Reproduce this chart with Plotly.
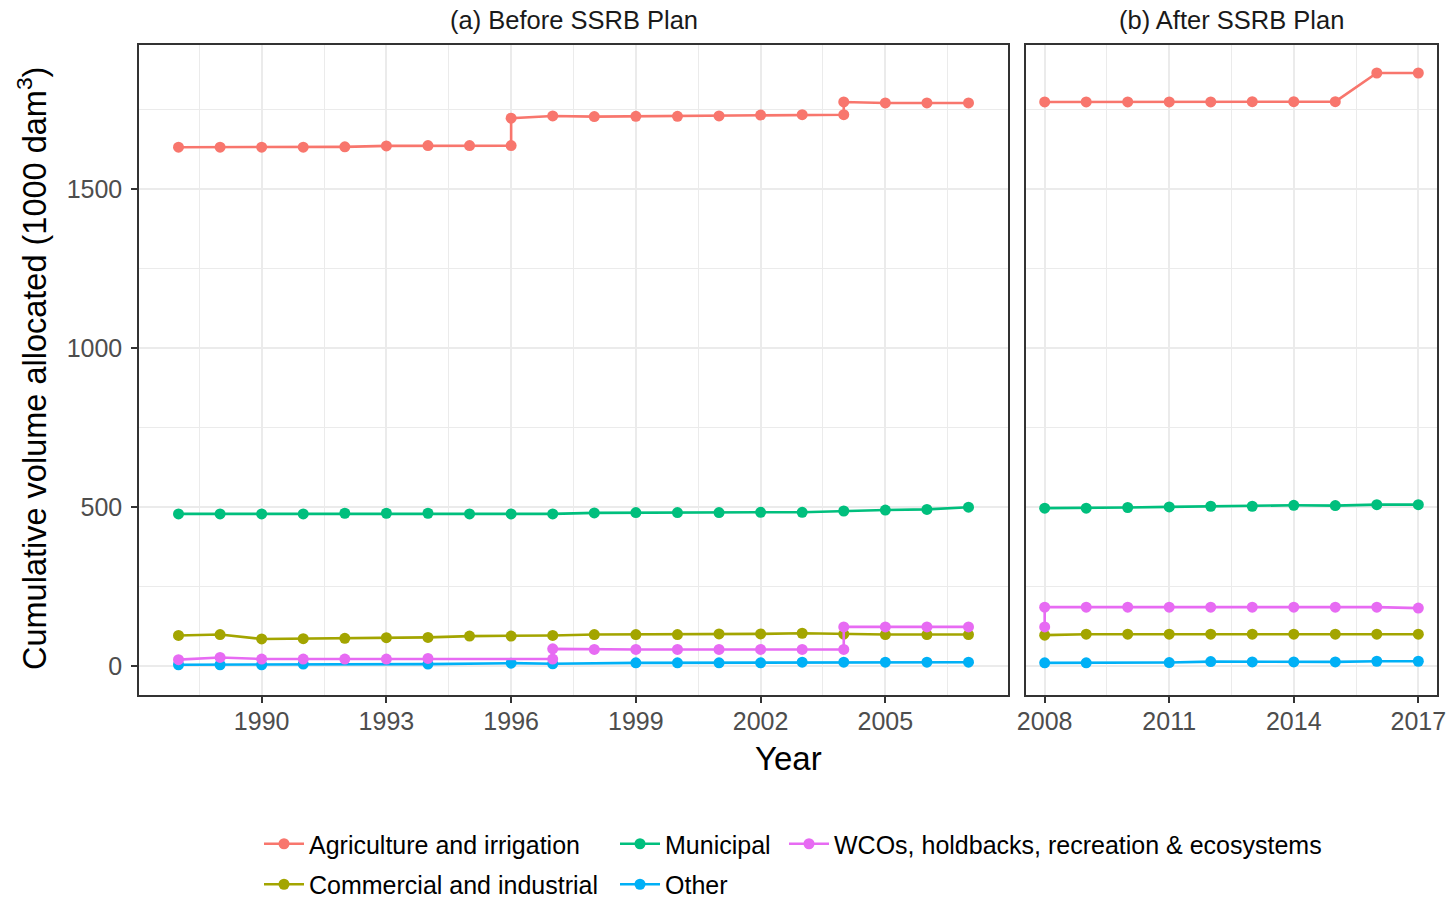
import plotly.graph_objects as go

# ---- data: cumulative volume allocated (1000 dam^3) by purpose ----
# (a) Before SSRB Plan, 1988-2007; repeated years hold the value before and after a change
agri_a_years = [1988, 1989, 1990, 1991, 1992, 1993, 1994, 1995, 1996, 1996, 1997,
                1998, 1999, 2000, 2001, 2002, 2003, 2004, 2004, 2005, 2006, 2007]
agri_a = [1631, 1631, 1631, 1631, 1632, 1635, 1636, 1636, 1636, 1722, 1729,
          1727, 1728, 1728, 1729, 1732, 1733, 1733, 1773, 1770, 1770, 1770]

comm_a_years = list(range(1988, 2008))
comm_a = [97, 100, 86, 87, 88, 90, 91, 95, 95, 97,
          100, 100, 100, 102, 102, 104, 101, 100, 100, 100]

muni_a_years = list(range(1988, 2008))
muni_a = [479, 479, 479, 479, 481, 481, 481, 479, 479, 479,
          482, 483, 483, 483, 484, 484, 488, 491, 493, 500]

other_a_years = [1988, 1989, 1990, 1991, 1994, 1996, 1997, 1999, 2000,
                 2001, 2002, 2003, 2004, 2005, 2006, 2007]
other_a = [5, 5, 5, 7, 7, 10, 8, 11, 11, 11, 11, 13, 13, 13, 13, 13]

wco_a_years = [1988, 1989, 1990, 1991, 1992, 1993, 1994, 1997, 1997, 1998,
               1999, 2000, 2001, 2002, 2003, 2004, 2004, 2005, 2006, 2007]
wco_a = [21, 28, 23, 23, 23, 23, 25, 23, 55, 53,
         53, 53, 53, 53, 53, 53, 124, 124, 124, 124]

# (b) After SSRB Plan, 2008-2017
agri_b_years = list(range(2008, 2018))
agri_b = [1773, 1773, 1773, 1773, 1773, 1774, 1774, 1774, 1864, 1864]

comm_b_years = list(range(2008, 2018))
comm_b = [98, 101, 101, 101, 101, 101, 101, 101, 101, 101]

muni_b_years = list(range(2008, 2018))
muni_b = [497, 497, 499, 501, 503, 503, 506, 505, 508, 508]

other_b_years = [2008, 2009, 2011, 2012, 2013, 2014, 2015, 2016, 2017]
other_b = [11, 11, 12, 15, 14, 14, 14, 16, 16]

wco_b_years = [2008, 2008, 2009, 2010, 2011, 2012, 2013, 2014, 2015, 2016, 2017]
wco_b = [124, 186, 186, 186, 186, 186, 186, 186, 186, 186, 183]

series_names = ["Agriculture and irrigation", "Commercial and industrial",
                "Municipal", "Other", "WCOs, holdbacks, recreation & ecosystems"]
series_colors = ["#F8766D", "#A3A500", "#00BF7D", "#00B0F6", "#E76BF3"]
panel_a = [(agri_a_years, agri_a), (comm_a_years, comm_a), (muni_a_years, muni_a),
           (other_a_years, other_a), (wco_a_years, wco_a)]
panel_b = [(agri_b_years, agri_b), (comm_b_years, comm_b), (muni_b_years, muni_b),
           (other_b_years, other_b), (wco_b_years, wco_b)]
legend_slot = ["legend", "legend", "legend2", "legend2", "legend3"]

panel_titles = ["(a) Before SSRB Plan", "(b) After SSRB Plan"]
xticks_a = [1990, 1993, 1996, 1999, 2002, 2005]
xticks_b = [2008, 2011, 2014, 2017]
yticks = [0, 500, 1000, 1500]

FONT = "Liberation Sans, Arial, sans-serif"
W, H = 1448, 907

fig = go.Figure()
for i, name in enumerate(series_names):
    for p, (xs, ys) in enumerate([panel_a[i], panel_b[i]]):
        fig.add_trace(go.Scatter(
            x=xs, y=ys, mode="lines+markers", name=name,
            line=dict(color=series_colors[i], width=2.6),
            marker=dict(color=series_colors[i], size=11),
            xaxis="x" if p == 0 else "x2", yaxis="y" if p == 0 else "y2",
            legend=legend_slot[i], legendgroup=name,
            showlegend=(p == 0),
        ))

def px_x(v):
    return v / W

def px_y(v):
    return 1 - v / H

grid_major = "#EBEBEB"
border = "#333333"
common_axis = dict(showline=True, mirror=True, linecolor=border, linewidth=1.5,
                   gridcolor=grid_major, gridwidth=1.8, zeroline=False, automargin=False,
                   ticklen=6, tickwidth=1.5, tickcolor=border,
                   tickfont=dict(family=FONT, size=25, color="#4D4D4D"))

y_minor = dict(tickvals=[250, 750, 1250, 1750], showgrid=True,
               gridcolor=grid_major, gridwidth=0.9, ticks="")

fig.update_layout(
    width=W, height=H,
    margin=dict(l=0, r=0, t=0, b=0),
    paper_bgcolor="white", plot_bgcolor="white",
    font=dict(family=FONT),
    xaxis=dict(domain=[px_x(139), px_x(1008)], range=[1987.05, 2007.95],
               tickvals=xticks_a, anchor="y", ticks="outside", ticklabelstandoff=-3,
               minor=dict(tickvals=[1988.5, 1991.5, 1994.5, 1997.5, 2000.5, 2003.5, 2006.5],
                          showgrid=True, gridcolor=grid_major, gridwidth=0.9, ticks=""),
               **common_axis),
    xaxis2=dict(domain=[px_x(1026), px_x(1437)], range=[2007.55, 2017.45],
                tickvals=xticks_b, anchor="y2", ticks="outside", ticklabelstandoff=-3,
                minor=dict(tickvals=[2009.5, 2012.5, 2015.5],
                           showgrid=True, gridcolor=grid_major, gridwidth=0.9, ticks=""),
                **common_axis),
    yaxis=dict(domain=[px_y(695), px_y(45)], range=[-90, 1952], tickvals=yticks,
               anchor="x", ticks="outside", ticklabelstandoff=4, minor=y_minor,
               **common_axis),
    yaxis2=dict(domain=[px_y(695), px_y(45)], range=[-90, 1952], tickvals=yticks,
                anchor="x2", matches="y", showticklabels=False, ticks="",
                minor=y_minor, **common_axis),
)

# Legend laid out in three columns; each column is its own legend box kept inside the figure
legend_style = dict(orientation="v", xanchor="left",
                    font=dict(family=FONT, size=25, color="black"),
                    bgcolor="rgba(0,0,0,0)", traceorder="grouped",
                    tracegroupgap=5, itemwidth=40)
fig.update_layout(
    legend=dict(x=px_x(259), y=0, yanchor="bottom", **legend_style),
    legend2=dict(x=px_x(615), y=0, yanchor="bottom", **legend_style),
    legend3=dict(x=px_x(784), y=px_y(821), yanchor="top", **legend_style),
)

annotations = [
    dict(text=panel_titles[0], x=px_x(573.5), y=px_y(20), xref="paper", yref="paper",
         showarrow=False, xanchor="center", yanchor="middle",
         font=dict(family=FONT, size=25.5, color="#1A1A1A")),
    dict(text=panel_titles[1], x=px_x(1231.5), y=px_y(20), xref="paper", yref="paper",
         showarrow=False, xanchor="center", yanchor="middle",
         font=dict(family=FONT, size=25.5, color="#1A1A1A")),
    dict(text="Year", x=px_x(788), y=px_y(758), xref="paper", yref="paper",
         showarrow=False, xanchor="center", yanchor="middle",
         font=dict(family=FONT, size=33, color="black")),
    dict(text="Cumulative volume allocated (1000 dam<sup>3</sup>)", x=px_x(32), y=px_y(369),
         xref="paper", yref="paper", showarrow=False, textangle=-90,
         xanchor="center", yanchor="middle",
         font=dict(family=FONT, size=32.5, color="black")),
]
fig.update_layout(annotations=annotations)

fig.write_html("out.html")
